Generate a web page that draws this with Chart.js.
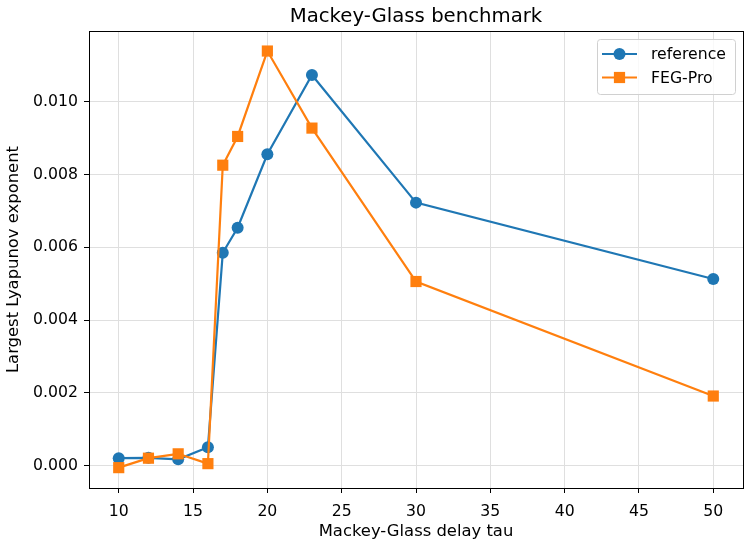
<!DOCTYPE html>
<html>
<head>
<meta charset="utf-8">
<script src="https://cdn.jsdelivr.net/npm/chart.js@4"></script>
<style>
html,body{margin:0;padding:0;background:#fff;}
canvas{display:block;}
</style>
</head>
<body>
<canvas id="c" width="751" height="546"></canvas>
<script>
const delays = [10, 12, 14, 16, 17, 18, 20, 23, 30, 50];
const referenceValues = [0.00020, 0.00021, 0.00017, 0.00050, 0.00585, 0.00654, 0.00856, 0.01074, 0.00723, 0.00513];
const fegProValues = [-0.00006, 0.00020, 0.00032, 0.00005, 0.00826, 0.00905, 0.01140, 0.00928, 0.00506, 0.00191];
const xTicks = [10, 15, 20, 25, 30, 35, 40, 45, 50];
const yTicks = [0.000, 0.002, 0.004, 0.006, 0.008, 0.010];
const seriesNames = ['reference', 'FEG-Pro'];

const FONT = 'DejaVu Sans';
const BLUE = '#1f77b4', ORANGE = '#ff7f0e';
const GRID = '#dfdfdf';

const toPoints = vals => delays.map((d, i) => ({x: d, y: vals[i]}));

const framePlugin = {
  id: 'frame',
  afterDatasetsDraw(chart) {
    const {ctx, chartArea: a} = chart;
    ctx.save();
    ctx.strokeStyle = '#000';
    ctx.lineWidth = 1;
    ctx.strokeRect(Math.round(a.left) + 0.5, Math.round(a.top) + 0.5, Math.round(a.right - a.left), Math.round(a.bottom - a.top));
    // legend
    const bx = 597.5, by = 39.5, bw = 138, bh = 55;
    ctx.fillStyle = 'rgba(255,255,255,0.8)';
    ctx.strokeStyle = '#d0d0d0';
    ctx.beginPath();
    ctx.roundRect(bx, by, bw, bh, 3);
    ctx.fill();
    ctx.stroke();
    const entries = [
      {name: seriesNames[0], color: BLUE, style: 'circle', y: 54},
      {name: seriesNames[1], color: ORANGE, style: 'rect', y: 77.5}
    ];
    entries.forEach(e => {
      ctx.strokeStyle = e.color;
      ctx.lineWidth = 2.2;
      ctx.beginPath();
      ctx.moveTo(602, e.y);
      ctx.lineTo(637, e.y);
      ctx.stroke();
      ctx.fillStyle = e.color;
      if (e.style === 'circle') {
        ctx.beginPath();
        ctx.arc(619.5, e.y, 6, 0, Math.PI * 2);
        ctx.fill();
      } else {
        ctx.fillRect(619.5 - 5.6, e.y - 5.6, 11.2, 11.2);
      }
      ctx.fillStyle = '#000';
      ctx.font = '15.7px ' + FONT;
      ctx.textBaseline = 'middle';
      ctx.textAlign = 'left';
      ctx.fillText(e.name, 651, e.y + 1);
    });
    ctx.restore();
  }
};

new Chart(document.getElementById('c'), {
  type: 'line',
  data: {
    datasets: [
      {
        label: seriesNames[0],
        data: toPoints(referenceValues),
        borderColor: BLUE,
        backgroundColor: BLUE,
        borderWidth: 2.2,
        pointStyle: 'circle',
        pointRadius: 6,
        pointBorderWidth: 0,
        pointBackgroundColor: BLUE,
        tension: 0,
        order: 1
      },
      {
        label: seriesNames[1],
        data: toPoints(fegProValues),
        borderColor: ORANGE,
        backgroundColor: ORANGE,
        borderWidth: 2.2,
        pointStyle: 'rect',
        pointRadius: 7.9,
        pointBorderWidth: 0,
        pointBackgroundColor: ORANGE,
        tension: 0,
        order: 0
      }
    ]
  },
  options: {
    responsive: false,
    animation: false,
    devicePixelRatio: 1,
    layout: {padding: {left: 0, right: 8, top: 0, bottom: 0}},
    plugins: {
      legend: {display: false},
      tooltip: {enabled: false},
      title: {
        display: true,
        text: 'Mackey-Glass benchmark',
        fullSize: false,
        color: '#000',
        font: {family: FONT, size: 19.7, weight: 'normal'},
        padding: {top: 5, bottom: 2.4}
      }
    },
    scales: {
      x: {
        type: 'linear',
        min: 8,
        max: 52,
        afterBuildTicks: s => { s.ticks = xTicks.map(v => ({value: v})); },
        afterFit: s => { s.height = 58; },
        grid: {color: GRID, lineWidth: 1, drawTicks: true, tickLength: 5, tickColor: '#000'},
        border: {display: false},
        ticks: {color: '#000', font: {family: FONT, size: 15.7}, padding: 10, maxRotation: 0, callback: v => String(v)},
        title: {display: true, text: 'Mackey-Glass delay tau', color: '#000', font: {family: FONT, size: 16.4}, padding: {top: 4.5, bottom: 4.5}}
      },
      y: {
        type: 'linear',
        min: -0.00062,
        max: 0.01195,
        afterBuildTicks: s => { s.ticks = yTicks.map(v => ({value: v})); },
        afterFit: s => { s.width = 89; },
        grid: {color: GRID, lineWidth: 1, drawTicks: true, tickLength: 5, tickColor: '#000'},
        border: {display: false},
        ticks: {color: '#000', font: {family: FONT, size: 15.7}, padding: 6, callback: v => Number(v).toFixed(3)},
        title: {display: true, text: 'Largest Lyapunov exponent', color: '#000', font: {family: FONT, size: 16.4}, padding: {top: 4, bottom: 4}}
      }
    }
  },
  plugins: [framePlugin]
});
</script>
</body>
</html>
